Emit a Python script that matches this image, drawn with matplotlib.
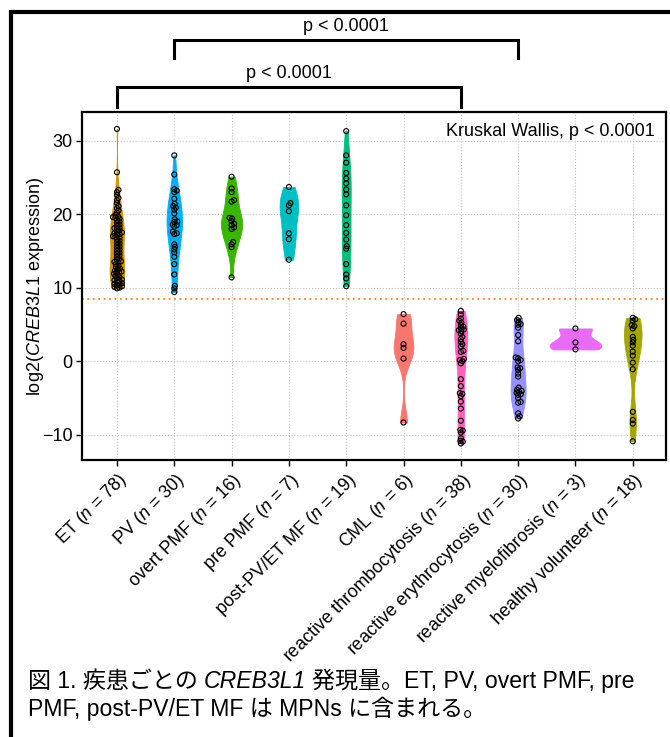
import matplotlib
matplotlib.use('Agg')
import matplotlib.pyplot as plt
from matplotlib.lines import Line2D
import numpy as np

plt.rcParams['font.family'] = ['Liberation Sans', 'Noto Sans CJK JP']
plt.rcParams['mathtext.fontset'] = 'custom'
plt.rcParams['mathtext.rm'] = 'Liberation Sans'
plt.rcParams['mathtext.it'] = 'Liberation Sans:italic'

# groups (label, n) and colours
groups = ['ET', 'PV', 'overt PMF', 'pre PMF', 'post-PV/ET MF', 'CML',
          'reactive thrombocytosis', 'reactive erythrocytosis',
          'reactive myelofibrosis', 'healthy volunteer']
colors = ['#D89000', '#00B0F6', '#39B600', '#00BFC4', '#00BF7D', '#F8766D',
          '#FF62BC', '#9590FF', '#E76BF3', '#A3A500']

# log2(CREB3L1 expression)
et = [31.6, 25.7, 23.3, 23.0, 22.6, 22.2, 21.9, 21.5, 21.1, 20.8, 20.5, 20.2,
      19.9, 19.7, 19.6, 19.5, 19.4, 19.2, 19.0, 18.8, 18.6, 18.4, 18.2, 18.1,
      18.0, 17.8, 17.6, 17.5, 17.4, 17.3, 17.2, 17.0, 16.9, 16.8, 16.6, 16.4,
      16.2, 16.0, 15.8, 15.6, 15.4, 15.2, 15.0, 14.8, 14.6, 14.4, 14.2, 14.0,
      13.8, 13.6, 13.5, 13.4, 13.2, 13.0, 12.8, 12.6, 12.5, 12.3, 12.2, 12.1,
      12.0, 11.9, 11.7, 11.6, 11.4, 11.3, 11.1, 11.0, 10.9, 10.8, 10.6, 10.5,
      10.4, 10.3, 10.2, 10.1, 10.0, 9.9]
pv = [28.0, 25.4, 23.4, 23.2, 23.0, 22.1, 21.4, 21.1, 20.9, 20.6, 20.1, 19.3,
      19.0, 18.95, 18.6, 18.5, 18.3, 17.6, 17.4, 17.3, 15.9, 15.55, 15.2, 14.8,
      14.2, 13.2, 11.8, 10.25, 9.9, 9.4]
overt_pmf = [25.1, 23.5, 23.0, 21.9, 21.7, 19.5, 19.4, 19.05, 18.7, 18.5,
             18.2, 18.0, 16.2, 15.9, 15.5, 11.4]
pre_pmf = [23.7, 21.5, 21.2, 20.4, 17.4, 16.6, 13.8]
post_mf = [31.3, 28.0, 27.0, 25.6, 24.85, 24.2, 23.35, 22.7, 21.2, 19.85,
           18.5, 17.45, 16.55, 15.65, 15.3, 13.2, 11.8, 11.25, 10.2]
cml = [6.4, 5.1, 2.3, 1.8, 0.35, -8.35]
react_thromb = [6.85, 6.35, 5.8, 5.5, 5.25, 4.9, 4.7, 4.5, 4.3, 4.2, 4.1, 3.75,
                3.3, 3.0, 2.6, 2.3, 2.0, 1.4, 1.25, 0.3, 0.15, 0.0, -0.3,
                -2.45, -3.4, -4.35, -4.45, -4.75, -5.5, -6.45, -8.1, -9.35,
                -9.45, -9.7, -10.5, -10.85, -10.95, -11.2]
react_eryth = [5.9, 5.6, 5.3, 5.05, 4.95, 4.55, 3.55, 2.7, 0.5, 0.4, 0.15, 0.0,
               -0.85, -0.95, -1.2, -1.7, -2.1, -3.6, -3.9, -4.05, -4.15, -4.3,
               -4.5, -4.6, -5.0, -5.55, -5.65, -7.1, -7.5, -7.8]
react_mf = [4.45, 2.55, 1.6]
healthy = [5.9, 5.7, 5.5, 4.9, 4.75, 4.45, 3.3, 2.9, 2.55, 2.1, 1.3, 0.75,
           -0.2, -1.1, -6.9, -8.0, -8.5, -10.9]
values = [et, pv, overt_pmf, pre_pmf, post_mf, cml, react_thromb, react_eryth,
          react_mf, healthy]

cutoff = 8.4
p_text = 'p < 0.0001'
brackets = [(0, 6, 37.3, 34.6), (1, 7, 43.7, 41.2)]  # (from, to, top, leg end)
caption1 = ['図 1. 疾患ごとの', 'CREB3L1', '発現量。ET, PV, overt PMF, pre']
caption2 = 'PMF, post-PV/ET MF は MPNs に含まれる。'


def nrd0(x):
    x = np.asarray(x, float)
    sd = x.std(ddof=1)
    q75, q25 = np.percentile(x, [75, 25])
    lo = min(sd, (q75 - q25) / 1.34)
    if lo <= 0:
        lo = sd
    return 0.9 * lo * len(x) ** -0.2


def kde(x):
    x = np.asarray(x, float)
    bw = nrd0(x)
    grid = np.linspace(x.min(), x.max(), 512)
    z = (grid[:, None] - x[None, :]) / bw
    dens = np.exp(-0.5 * z ** 2).sum(axis=1) / (len(x) * bw * np.sqrt(2 * np.pi))
    return grid, dens


def swarm(vals, px_x, px_y, d=2.6):
    # simple beeswarm: nearest free offset (in pixels) for each sorted value
    order = np.argsort(vals)
    placed = []
    offs = np.zeros(len(vals))
    steps = [0.0]
    for k in range(1, 40):
        steps += [k * 0.5, -k * 0.5]
    for i in order:
        yp = vals[i] * px_y
        for s in steps:
            if all((s - ox) ** 2 + (yp - oy) ** 2 >= d ** 2 for ox, oy in placed):
                break
        placed.append((s, yp))
        offs[i] = s / px_x
    return offs


W, H = 670, 737
fig = plt.figure(figsize=(W / 100, H / 100), dpi=100)
ax_l, ax_r, ax_t, ax_b = 82, 666, 112, 460
ax = fig.add_axes([ax_l / W, 1 - ax_b / H, (ax_r - ax_l) / W, (ax_b - ax_t) / H])
xlim = (-0.61, 9.58)
ylim = (-13.45, 33.9)
ax.set_xlim(xlim)
ax.set_ylim(ylim)
px_x = (ax_r - ax_l) / (xlim[1] - xlim[0])
px_y = (ax_b - ax_t) / (ylim[1] - ylim[0])

dens_all = [kde(v) for v in values]
dmax = max(d.max() for _, d in dens_all)
for i, (v, (grid, dens)) in enumerate(zip(values, dens_all)):
    hw = dens / dmax * 0.45
    ax.fill_betweenx(grid, i - hw, i + hw, color=colors[i], lw=0.6,
                     edgecolor=colors[i], zorder=2)
    v = np.asarray(v, float)
    xo = swarm(v, px_x, px_y)
    ax.scatter(i + xo, v, s=13, facecolors='none', edgecolors='black',
               linewidths=0.8, zorder=3)

ax.axhline(cutoff, color='#FF7F27', ls=(0, (1, 2)), lw=1.3, zorder=1)

ax.set_xticks(range(len(groups)))
labels = [f'{g} ($\\mathit{{n}}$ = {len(v)})' for g, v in zip(groups, values)]
ax.set_xticklabels(labels, rotation=45, ha='right', va='top',
                   rotation_mode='anchor')
ax.set_yticks([-10, 0, 10, 20, 30])
ax.tick_params(direction='out', length=4, width=1, colors='black',
               labelsize=13, pad=3)
ax.grid(True, color='#c4c4c4', ls=':', lw=0.8, zorder=0)
ax.set_axisbelow(True)
for sp in ax.spines.values():
    sp.set_linewidth(1.6)
ax.set_ylabel('log2($\\mathit{CREB3L1}$ expression)', fontsize=13)
ax.yaxis.set_label_coords((46 - ax_l) / (ax_r - ax_l), 0.5)

ax.text(0.981, 0.945, 'Kruskal Wallis, p < 0.0001', transform=ax.transAxes,
        ha='right', va='center', fontsize=13)

for a, b, top, leg in brackets:
    ax.plot([a, a, b, b], [leg, top, top, leg], color='black', lw=2.2,
            clip_on=False, solid_joinstyle='miter')
    ax.text((a + b) / 2, top + 0.65, p_text, ha='center', va='bottom',
            fontsize=13, clip_on=False)

# outer frame (left and top edges)
fx, fy = 11 / W, 1 - 12 / H
fig.add_artist(Line2D([fx, fx, 1.0], [0.0, fy, fy], transform=fig.transFigure,
                      color='black', lw=3, solid_joinstyle='miter'))

# caption with italic gene name
fig.canvas.draw()
r = fig.canvas.get_renderer()
x = 28 / W
y1, y2 = 1 - 681 / H, 1 - 709 / H
cap_fs = 16.6
for j, piece in enumerate(caption1):
    style = 'italic' if j == 1 else 'normal'
    t = fig.text(x, y1, piece, fontsize=cap_fs, style=style, va='center')
    bb = t.get_window_extent(renderer=r)
    x += (bb.width + 6) / W
fig.text(28 / W, y2, caption2, fontsize=cap_fs, va='center')

fig.savefig('out.png', dpi=100)
